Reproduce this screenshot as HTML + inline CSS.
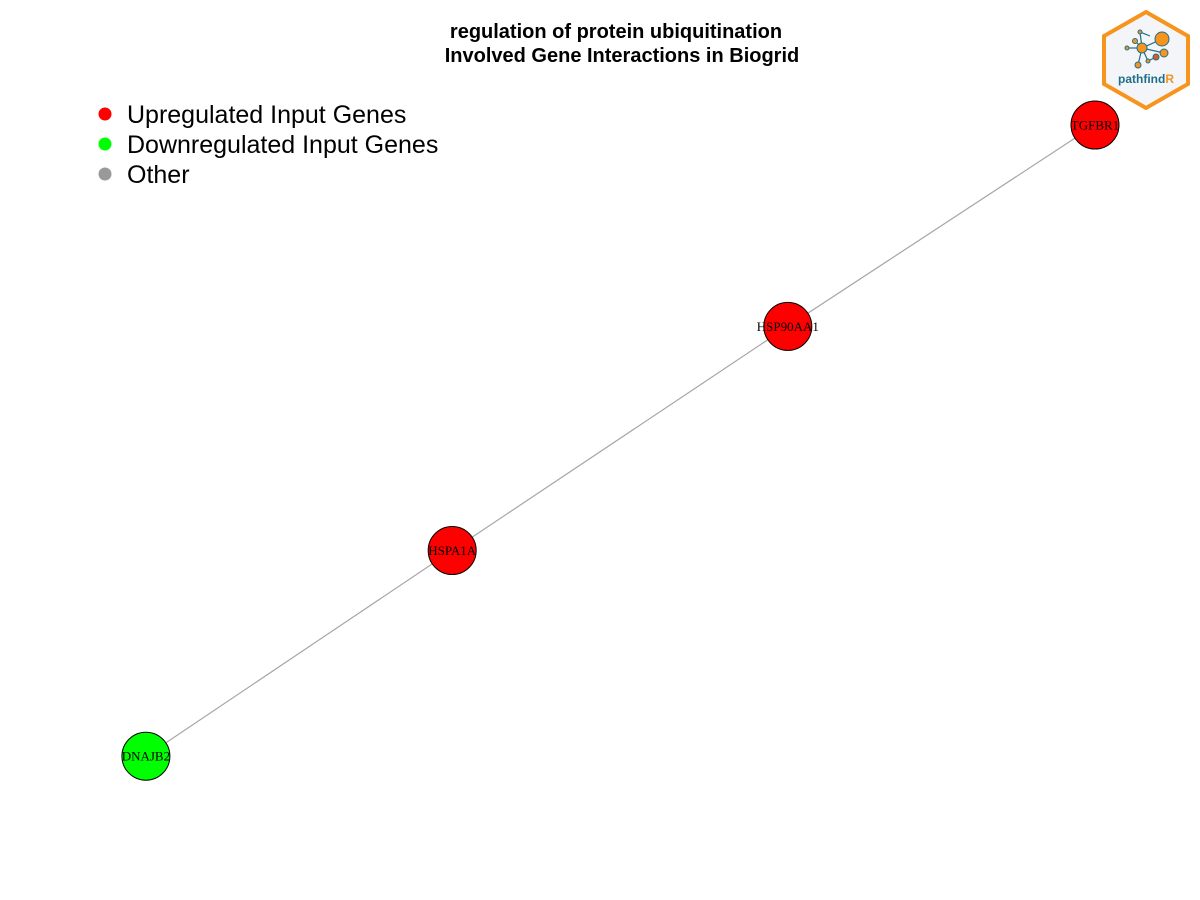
<!DOCTYPE html>
<html><head><meta charset="utf-8"><style>
body{margin:0;background:#fff;}
svg{display:block;}
</style></head><body>
<svg id="chart" width="1200" height="900" xmlns="http://www.w3.org/2000/svg">
<rect width="1200" height="900" fill="#fff"/>
<text x="616" y="38" text-anchor="middle" font-family="Liberation Sans, sans-serif" font-weight="bold" font-size="20">regulation of protein ubiquitination</text>
<text x="622" y="62" text-anchor="middle" font-family="Liberation Sans, sans-serif" font-weight="bold" font-size="20">Involved Gene Interactions in Biogrid</text>
<g font-family="Liberation Sans, sans-serif" font-size="25">
<g><circle cx="105" cy="114" r="6.5" fill="#ff0000"/><text x="127" y="123">Upregulated Input Genes</text></g>
<g><circle cx="105" cy="144" r="6.5" fill="#00ff00"/><text x="127" y="153">Downregulated Input Genes</text></g>
<g><circle cx="105" cy="174" r="6.5" fill="#999999"/><text x="127" y="183">Other</text></g>
</g>
<g id="edges"></g>
<g id="nodes"></g>
<g>
<polygon points="1146,12 1188,36 1188,84 1146,108 1104,84 1104,36" fill="#f3f5f8" stroke="#f7941d" stroke-width="4"/>
<g stroke="#1f6f8b" stroke-width="1.2">
<line x1="1142" y1="48" x2="1162" y2="39"/><line x1="1142" y1="48" x2="1140" y2="32"/><line x1="1140" y1="32" x2="1150" y2="36"/>
<line x1="1142" y1="48" x2="1127" y2="48"/><line x1="1142" y1="48" x2="1135" y2="41"/><line x1="1142" y1="48" x2="1164" y2="53"/>
<line x1="1142" y1="48" x2="1148" y2="61"/><line x1="1142" y1="48" x2="1138" y2="65"/><line x1="1148" y1="61" x2="1156" y2="57"/>
</g>
<circle cx="1162" cy="39" r="7" fill="#f7941d" stroke="#1f6f8b"/>
<circle cx="1142" cy="48" r="5" fill="#f7941d" stroke="#1f6f8b"/>
<circle cx="1164" cy="53" r="4" fill="#f7941d" stroke="#1f6f8b"/>
<circle cx="1156" cy="57" r="3" fill="#e2571e" stroke="#1f6f8b"/>
<circle cx="1138" cy="65" r="3" fill="#f7941d" stroke="#1f6f8b"/>
<circle cx="1135" cy="41" r="2.5" fill="#f7941d" stroke="#1f6f8b"/>
<circle cx="1127" cy="48" r="2" fill="#f7941d" stroke="#1f6f8b"/>
<circle cx="1148" cy="61" r="2" fill="#f7941d" stroke="#1f6f8b"/>
<circle cx="1140" cy="32" r="2" fill="#f7941d" stroke="#1f6f8b"/>
<text x="1146" y="83" text-anchor="middle" font-family="Liberation Sans, sans-serif" font-weight="bold" font-size="12" fill="#1f6f8b">pathfind<tspan fill="#f7941d">R</tspan></text>
</g>
</svg>
<script>
const genes = ["TGFBR1","HSP90AA1","HSPA1A","DNAJB2"];
const layoutX = [1.0, 0.665, 0.299, -0.035];
const layoutY = [1.0, 0.672, 0.307, -0.028];
const regulation = ["up","up","up","down"];
const edgeFrom = [0,1,2];
const edgeTo = [1,2,3];
const colorMap = {up:"#ff0000", down:"#00ff00", other:"#999999"};
const sx = v => 178 + v*917;
const sy = v => 739 - v*614;
const NS = "http://www.w3.org/2000/svg";
const eg = document.getElementById("edges"), ng = document.getElementById("nodes");
edgeFrom.forEach((f,i)=>{
  const t = edgeTo[i];
  const l = document.createElementNS(NS,"line");
  
  
  l.setAttribute("x1",sx(layoutX[f]));l.setAttribute("y1",sy(layoutY[f]));
  l.setAttribute("x2",sx(layoutX[t]));l.setAttribute("y2",sy(layoutY[t]));
  l.setAttribute("stroke","#a6a6a6");l.setAttribute("stroke-width","1.2");
  eg.appendChild(l);
});
genes.forEach((g,i)=>{
  const grp = document.createElementNS(NS,"g");
  
  
  const c = document.createElementNS(NS,"circle");
  c.setAttribute("cx",sx(layoutX[i]));c.setAttribute("cy",sy(layoutY[i]));c.setAttribute("r",24);
  c.setAttribute("fill",colorMap[regulation[i]]);c.setAttribute("stroke","#000");c.setAttribute("stroke-width","1");
  const t = document.createElementNS(NS,"text");
  t.setAttribute("x",sx(layoutX[i]));t.setAttribute("y",sy(layoutY[i])+4.5);
  t.setAttribute("text-anchor","middle");t.setAttribute("font-family","Liberation Serif, serif");t.setAttribute("font-size","13");
  t.textContent = g;
  grp.appendChild(c);grp.appendChild(t);ng.appendChild(grp);
});
</script>
</body></html>
